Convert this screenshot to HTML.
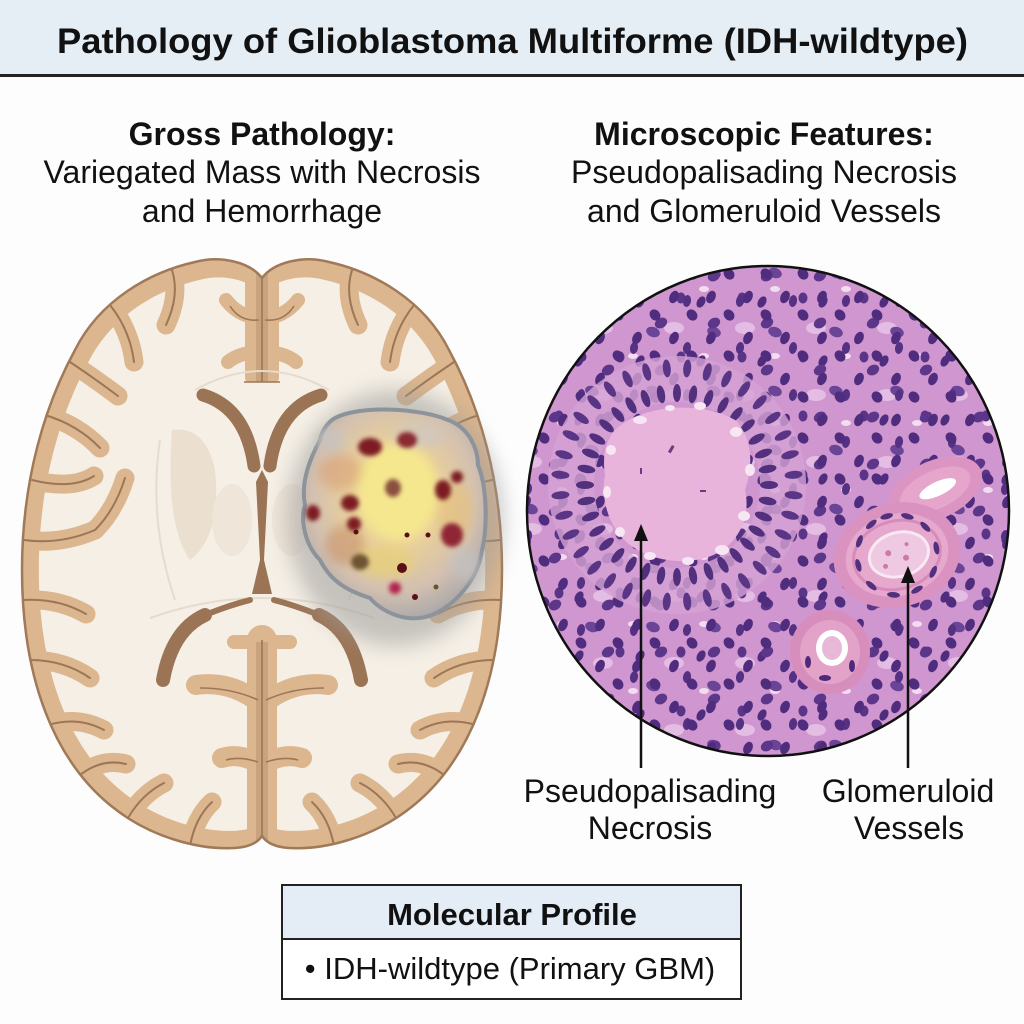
<!DOCTYPE html>
<html><head><meta charset="utf-8">
<style>html,body{margin:0;padding:0;background:#fff}svg{display:block}</style>
</head><body>
<svg width="1024" height="1024" viewBox="0 0 1024 1024" xmlns="http://www.w3.org/2000/svg" xmlns:xlink="http://www.w3.org/1999/xlink" font-family="'Liberation Sans', Arial, Helvetica, sans-serif">
<defs>
  <path id="brainOut" d="M262,278 C250,262 220,255 195,262 C150,272 100,300 75,350 C45,405 22,480 22,570 C22,680 55,760 110,805 C150,838 200,850 235,848 C250,847 258,842 262,836 C266,842 274,847 289,848 C324,850 374,838 414,805 C469,760 502,680 502,570 C502,480 479,405 449,350 C424,300 374,272 329,262 C304,255 274,262 262,278 Z"/>
  <clipPath id="brainClip"><use href="#brainOut"/></clipPath>
  <clipPath id="circ"><ellipse cx="768" cy="511" rx="241" ry="245"/></clipPath>
  <g id="sulci" fill="none" stroke-linecap="round" stroke-linejoin="round">
    <path d="M172,270 Q180,295 166,325"/>
    <path d="M110,305 Q130,330 134,362"/>
    <path d="M70,362 Q94,378 118,396"/>
    <path d="M45,415 Q78,425 100,448"/>
    <path d="M32,480 Q72,490 94,476"/>
    <path d="M24,540 Q60,545 95,530 Q115,510 125,478"/>
    <path d="M23,600 Q58,598 86,614"/>
    <path d="M30,660 Q64,660 90,678"/>
    <path d="M48,725 Q78,716 104,730"/>
    <path d="M80,775 Q102,758 126,764"/>
    <path d="M128,818 Q142,794 164,783"/>
    <path d="M190,846 Q195,818 212,802"/>
    <path d="M352,270 Q344,295 358,325"/>
    <path d="M414,305 Q394,330 390,362"/>
    <path d="M454,362 Q430,378 406,396"/>
    <path d="M479,415 Q446,425 424,448"/>
    <path d="M492,480 Q452,490 430,476"/>
    <path d="M500,540 Q464,545 429,530 Q409,510 399,478"/>
    <path d="M501,600 Q466,598 438,614"/>
    <path d="M494,660 Q460,660 434,678"/>
    <path d="M476,725 Q446,716 420,730"/>
    <path d="M444,775 Q422,758 398,764"/>
    <path d="M396,818 Q382,794 360,783"/>
    <path d="M334,846 Q329,818 312,802"/>
  </g>
  <filter id="blur10" x="-40%" y="-40%" width="180%" height="180%"><feGaussianBlur stdDeviation="10"/></filter>
  <filter id="blur5" x="-40%" y="-40%" width="180%" height="180%"><feGaussianBlur stdDeviation="5"/></filter>
  <filter id="blur2" x="-40%" y="-40%" width="180%" height="180%"><feGaussianBlur stdDeviation="2"/></filter>
  <radialGradient id="tg" cx="0.5" cy="0.42" r="0.6">
    <stop offset="0" stop-color="#f3e49c"/>
    <stop offset="0.4" stop-color="#ead09a"/>
    <stop offset="0.75" stop-color="#d3c0b0"/>
    <stop offset="1" stop-color="#aaa8a9"/>
  </radialGradient>
  <pattern id="nucA" width="37" height="41" patternUnits="userSpaceOnUse">
    <ellipse cx="8" cy="10" rx="4.5" ry="6.5" fill="#4f2c7d" transform="rotate(25 8 10)"/>
    <ellipse cx="26" cy="28" rx="5" ry="6" fill="#4f2c7d" transform="rotate(-40 26 28)"/>
  </pattern>
  <pattern id="nucB" width="53" height="47" patternUnits="userSpaceOnUse" patternTransform="translate(11 5)">
    <ellipse cx="14" cy="36" rx="5" ry="6.5" fill="#5c3689" transform="rotate(60 14 36)"/>
    <ellipse cx="40" cy="14" rx="4" ry="6" fill="#553184" transform="rotate(10 40 14)"/>
  </pattern>
  <pattern id="nucC" width="61" height="59" patternUnits="userSpaceOnUse" patternTransform="translate(23 17)">
    <ellipse cx="20" cy="20" rx="5" ry="7" fill="#6a4496" transform="rotate(-70 20 20)"/>
    <ellipse cx="48" cy="45" rx="4.5" ry="5.5" fill="#5a3487"/>
    <ellipse cx="7" cy="49" rx="4" ry="6" fill="#4f2c7d" transform="rotate(30 7 49)"/>
  </pattern>
  <pattern id="pale" width="71" height="67" patternUnits="userSpaceOnUse" patternTransform="translate(5 30)">
    <ellipse cx="30" cy="30" rx="10" ry="6" fill="#e3bde3"/>
    <ellipse cx="60" cy="58" rx="5" ry="3" fill="#f2dcef"/>
  </pattern>
  <ellipse id="pn1" cx="0" cy="-92" rx="4" ry="9" fill="#52307e"/>
  <ellipse id="pn2" cx="0" cy="-117" rx="4" ry="9" fill="#5a3585"/>
  <ellipse id="vn" cx="0" cy="-40" rx="6.5" ry="2.8" fill="#52307e"/>
</defs>

<rect width="1024" height="1024" fill="#fdfdfd"/>

<!-- Title bar -->
<rect x="0" y="0" width="1024" height="75" fill="#e5edf5"/>
<line x1="0" y1="75.5" x2="1024" y2="75.5" stroke="#222" stroke-width="3"/>
<text x="57" y="53" font-size="35" font-weight="bold" fill="#111" textLength="911" lengthAdjust="spacingAndGlyphs">Pathology of Glioblastoma Multiforme (IDH-wildtype)</text>

<!-- Headings -->
<g fill="#111" text-anchor="middle">
  <text x="262" y="145" font-size="32" font-weight="bold">Gross Pathology:</text>
  <text x="262" y="183" font-size="32">Variegated Mass with Necrosis</text>
  <text x="262" y="222" font-size="32">and Hemorrhage</text>
  <text x="764" y="145" font-size="32" font-weight="bold">Microscopic Features:</text>
  <text x="764" y="183" font-size="32">Pseudopalisading Necrosis</text>
  <text x="764" y="222" font-size="32">and Glomeruloid Vessels</text>
</g>

<!-- Brain -->
<use href="#brainOut" fill="#dcb68e"/>
<use href="#brainOut" fill="#f5efe5" transform="translate(262 560) scale(0.93 0.94) translate(-262 -560)"/>
<g clip-path="url(#brainClip)">
  <use href="#sulci" stroke="#dcb68e" stroke-width="19"/>
  <use href="#sulci" stroke="#9c7656" stroke-width="2"/>
  <!-- frontal midline -->
  <rect x="245" y="272" width="34" height="110" rx="4" fill="#dcb68e"/>
  <g stroke="#dcb68e" stroke-width="14" fill="none" stroke-linecap="round">
    <path d="M262,318 Q240,318 226,300"/><path d="M262,318 Q284,318 298,300"/>
    <path d="M262,352 Q240,352 228,362"/><path d="M262,352 Q284,352 296,362"/>
  </g>
  <rect x="256" y="272" width="12" height="110" fill="#c9a37d"/>
  <g stroke="#9c7656" stroke-width="1.6" fill="none">
    <path d="M262,272 L262,382"/>
    <path d="M259,320 Q240,322 230,306"/><path d="M265,320 Q284,322 294,306"/>
    <path d="M244,382 L280,382"/>
  </g>
  <!-- posterior midline -->
  <g stroke="#dcb68e" fill="none" stroke-linecap="round">
    <path d="M262,640 L262,850" stroke-width="30"/>
    <path d="M234,642 L290,642" stroke-width="14"/>
    <path d="M262,705 Q232,680 196,685" stroke-width="20"/>
    <path d="M262,705 Q292,680 328,685" stroke-width="20"/>
    <path d="M262,765 Q240,752 222,758" stroke-width="20"/>
    <path d="M262,765 Q284,752 302,758" stroke-width="20"/>
  </g>
  <rect x="256" y="642" width="12" height="210" fill="#c9a37d"/>
  <g stroke="#9c7656" stroke-width="1.6" fill="none">
    <path d="M262,640 L262,850"/>
    <path d="M258,700 Q232,688 200,688"/><path d="M266,700 Q292,688 324,688"/>
    <path d="M258,762 Q240,756 226,760"/><path d="M266,762 Q284,756 298,760"/>
  </g>
</g>
<!-- deep structures -->
<g fill="none" stroke="#e5dccd" stroke-width="2">
  <path d="M195,390 Q262,352 329,390"/>
  <path d="M150,618 Q262,578 374,618"/>
  <path d="M160,440 Q148,520 175,600"/>
  <path d="M364,440 Q376,520 349,600"/>
</g>
<path d="M172,430 Q205,425 215,470 Q222,535 190,560 Q165,525 172,430 Z" fill="#ebdfcf"/>
<ellipse cx="232" cy="520" rx="20" ry="36" fill="#efe5d8"/>
<path d="M352,430 Q319,425 309,470 Q302,535 334,560 Q359,525 352,430 Z" fill="#ebdfcf"/>
<ellipse cx="292" cy="520" rx="20" ry="36" fill="#efe5d8"/>
<g stroke="#9b7455" fill="none" stroke-linecap="round">
  <path d="M203,395 Q246,408 254,466" stroke-width="13"/>
  <path d="M321,395 Q278,408 270,466" stroke-width="13"/>
  <path d="M205,615 Q172,630 163,680" stroke-width="14"/>
  <path d="M319,615 Q352,630 361,680" stroke-width="14"/>
  <path d="M205,615 Q230,605 250,600" stroke-width="6"/>
  <path d="M319,615 Q294,605 274,600" stroke-width="6"/>
</g>
<path d="M262,470 L268,482 L264,560 L272,594 L252,594 L260,560 L256,482 Z" fill="#9b7455"/>
<use href="#brainOut" fill="none" stroke="#a07a58" stroke-width="2.5"/>

<!-- Tumor -->
<ellipse cx="395" cy="518" rx="108" ry="128" fill="#9f9d9c" opacity="0.55" filter="url(#blur10)"/>
<path d="M335,418 C360,405 420,408 448,420 C470,428 478,450 478,465 C488,490 487,530 482,550 C478,580 455,605 432,615 C405,625 380,610 370,598 C345,590 330,580 320,560 C305,545 300,520 305,505 C300,480 312,455 320,440 C322,430 328,422 335,418 Z" fill="url(#tg)" stroke="#8c939a" stroke-width="4"/>
<g filter="url(#blur5)">
  <ellipse cx="398" cy="492" rx="40" ry="48" fill="#f5e78e"/>
  <ellipse cx="340" cy="472" rx="22" ry="18" fill="#d99a6c" opacity="0.5"/>
  <ellipse cx="455" cy="512" rx="18" ry="30" fill="#e6c07a" opacity="0.6"/>
  <ellipse cx="385" cy="562" rx="30" ry="16" fill="#e8d070" opacity="0.6"/>
  <ellipse cx="420" cy="435" rx="25" ry="12" fill="#d0c8bf" opacity="0.8"/>
  <ellipse cx="345" cy="545" rx="20" ry="20" fill="#c48a5e" opacity="0.5"/>
  <ellipse cx="330" cy="440" rx="14" ry="12" fill="#c7c3bf" opacity="0.8"/>
  <ellipse cx="465" cy="565" rx="14" ry="16" fill="#c3c0bf" opacity="0.8"/>
</g>
<g filter="url(#blur2)" fill="#7c1c24">
  <ellipse cx="370" cy="447" rx="12" ry="9"/>
  <ellipse cx="407" cy="440" rx="10" ry="8" fill="#8a2a30"/>
  <ellipse cx="350" cy="503" rx="9" ry="8"/>
  <ellipse cx="354" cy="524" rx="7" ry="7"/>
  <ellipse cx="443" cy="490" rx="8" ry="10"/>
  <ellipse cx="457" cy="477" rx="6" ry="6"/>
  <ellipse cx="452" cy="535" rx="11" ry="12" fill="#8e2535"/>
  <ellipse cx="313" cy="513" rx="7" ry="8"/>
  <ellipse cx="393" cy="488" rx="8" ry="9" fill="#8a5040"/>
  <ellipse cx="360" cy="562" rx="9" ry="8" fill="#6d5230"/>
  <ellipse cx="395" cy="588" rx="6" ry="6" fill="#b02050"/>
</g>
<g fill="#5a0f18">
  <circle cx="402" cy="568" r="5"/>
  <circle cx="415" cy="597" r="3"/>
  <circle cx="407" cy="535" r="2.5"/>
  <circle cx="428" cy="535" r="2.5"/>
  <circle cx="356" cy="532" r="2.5"/>
  <circle cx="436" cy="587" r="2.5" fill="#6d5230"/>
</g>

<!-- Micrograph -->
<g clip-path="url(#circ)">
  <rect x="520" y="260" width="500" height="505" fill="#cf96cf"/>
  <rect x="520" y="260" width="500" height="505" fill="url(#pale)"/>
  <rect x="520" y="260" width="500" height="505" fill="url(#nucC)"/>
  <rect x="520" y="260" width="500" height="505" fill="url(#nucB)"/>
  <rect x="520" y="260" width="500" height="505" fill="url(#nucA)"/>
  <!-- palisade ring -->
  <g transform="translate(677 485)">
    <circle cx="0" cy="0" r="106" fill="none" stroke="#d5a2d4" stroke-width="46" opacity="0.8"/>
    <use href="#pn1" transform="rotate(0)"/><use href="#pn1" transform="rotate(10)"/><use href="#pn1" transform="rotate(20)"/><use href="#pn1" transform="rotate(30)"/><use href="#pn1" transform="rotate(40)"/><use href="#pn1" transform="rotate(50)"/><use href="#pn1" transform="rotate(60)"/><use href="#pn1" transform="rotate(70)"/><use href="#pn1" transform="rotate(80)"/><use href="#pn1" transform="rotate(90)"/><use href="#pn1" transform="rotate(100)"/><use href="#pn1" transform="rotate(110)"/><use href="#pn1" transform="rotate(120)"/><use href="#pn1" transform="rotate(130)"/><use href="#pn1" transform="rotate(140)"/><use href="#pn1" transform="rotate(150)"/><use href="#pn1" transform="rotate(160)"/><use href="#pn1" transform="rotate(170)"/><use href="#pn1" transform="rotate(180)"/><use href="#pn1" transform="rotate(190)"/><use href="#pn1" transform="rotate(200)"/><use href="#pn1" transform="rotate(210)"/><use href="#pn1" transform="rotate(220)"/><use href="#pn1" transform="rotate(230)"/><use href="#pn1" transform="rotate(240)"/><use href="#pn1" transform="rotate(250)"/><use href="#pn1" transform="rotate(260)"/><use href="#pn1" transform="rotate(270)"/><use href="#pn1" transform="rotate(280)"/><use href="#pn1" transform="rotate(290)"/><use href="#pn1" transform="rotate(300)"/><use href="#pn1" transform="rotate(310)"/><use href="#pn1" transform="rotate(320)"/><use href="#pn1" transform="rotate(330)"/><use href="#pn1" transform="rotate(340)"/><use href="#pn1" transform="rotate(350)"/>
    <use href="#pn2" transform="rotate(5)"/><use href="#pn2" transform="rotate(15)"/><use href="#pn2" transform="rotate(25)"/><use href="#pn2" transform="rotate(35)"/><use href="#pn2" transform="rotate(45)"/><use href="#pn2" transform="rotate(55)"/><use href="#pn2" transform="rotate(65)"/><use href="#pn2" transform="rotate(75)"/><use href="#pn2" transform="rotate(85)"/><use href="#pn2" transform="rotate(95)"/><use href="#pn2" transform="rotate(105)"/><use href="#pn2" transform="rotate(115)"/><use href="#pn2" transform="rotate(125)"/><use href="#pn2" transform="rotate(135)"/><use href="#pn2" transform="rotate(145)"/><use href="#pn2" transform="rotate(155)"/><use href="#pn2" transform="rotate(165)"/><use href="#pn2" transform="rotate(175)"/><use href="#pn2" transform="rotate(185)"/><use href="#pn2" transform="rotate(195)"/><use href="#pn2" transform="rotate(205)"/><use href="#pn2" transform="rotate(215)"/><use href="#pn2" transform="rotate(225)"/><use href="#pn2" transform="rotate(235)"/><use href="#pn2" transform="rotate(245)"/><use href="#pn2" transform="rotate(255)"/><use href="#pn2" transform="rotate(265)"/><use href="#pn2" transform="rotate(275)"/><use href="#pn2" transform="rotate(285)"/><use href="#pn2" transform="rotate(295)"/><use href="#pn2" transform="rotate(305)"/><use href="#pn2" transform="rotate(315)"/><use href="#pn2" transform="rotate(325)"/><use href="#pn2" transform="rotate(335)"/><use href="#pn2" transform="rotate(345)"/><use href="#pn2" transform="rotate(355)"/>
  </g>
  <!-- necrosis -->
  <path d="M615,430 C640,405 700,400 735,420 C755,440 752,470 745,490 C752,520 735,550 705,558 C680,565 650,560 630,545 C610,530 600,500 605,475 C602,455 606,440 615,430 Z" fill="#e8b4dc"/>
  <g fill="#f6e7f3">
    <ellipse cx="640" cy="420" rx="7" ry="4"/><ellipse cx="700" cy="406" rx="6" ry="4"/><ellipse cx="736" cy="432" rx="6" ry="5"/>
    <ellipse cx="750" cy="470" rx="5" ry="6"/><ellipse cx="744" cy="516" rx="6" ry="5"/><ellipse cx="722" cy="550" rx="7" ry="5"/>
    <ellipse cx="688" cy="561" rx="6" ry="4"/><ellipse cx="650" cy="556" rx="6" ry="4"/><ellipse cx="620" cy="532" rx="5" ry="5"/>
    <ellipse cx="607" cy="492" rx="4" ry="6"/><ellipse cx="611" cy="450" rx="5" ry="5"/><ellipse cx="670" cy="408" rx="5" ry="3"/>
  </g>
  <g fill="#6a3b80">
    <rect x="672" y="445" width="3" height="8" transform="rotate(30 672 445)"/>
    <rect x="700" y="490" width="6" height="2"/>
    <rect x="640" y="468" width="2" height="6"/>
  </g>
  <!-- vessels -->
  <g transform="translate(935 490) rotate(-25)">
    <ellipse cx="0" cy="0" rx="50" ry="29" fill="#dc94c2"/>
    <ellipse cx="0" cy="0" rx="38" ry="19" fill="#e6a6cb"/>
    <ellipse cx="3" cy="0" rx="20" ry="7" fill="#ffffff"/>
  </g>
  <g transform="translate(897 555) rotate(-15)">
    <ellipse cx="0" cy="0" rx="64" ry="52" fill="#da92c0"/>
    <ellipse cx="0" cy="0" rx="52" ry="41" fill="#e6a8cc"/>
    <ellipse cx="0" cy="0" rx="44" ry="34" fill="none" stroke="#d68bbb" stroke-width="3"/>
    <ellipse cx="2" cy="0" rx="30" ry="22" fill="#efc9e2"/>
    <ellipse cx="2" cy="0" rx="30" ry="22" fill="none" stroke="#f8e8f3" stroke-width="3"/>
    <g fill="#cc7aad"><circle cx="-8" cy="-4" r="3"/><circle cx="8" cy="5" r="3"/><circle cx="12" cy="-8" r="2"/><circle cx="-14" cy="8" r="2.5"/></g>
    <use href="#vn" transform="rotate(0)"/><use href="#vn" transform="rotate(30)"/><use href="#vn" transform="rotate(60)"/><use href="#vn" transform="rotate(95)"/><use href="#vn" transform="rotate(130)"/><use href="#vn" transform="rotate(165)"/><use href="#vn" transform="rotate(200)"/><use href="#vn" transform="rotate(235)"/><use href="#vn" transform="rotate(270)"/><use href="#vn" transform="rotate(305)"/><use href="#vn" transform="rotate(335)"/>
  </g>
  <g transform="translate(830 652)">
    <ellipse cx="0" cy="0" rx="40" ry="42" fill="#d88ebc"/>
    <ellipse cx="0" cy="0" rx="30" ry="32" fill="#e3a2c8"/>
    <ellipse cx="2" cy="-4" rx="16" ry="18" fill="#ffffff"/>
    <ellipse cx="2" cy="-4" rx="10" ry="12" fill="#e8b8d8"/>
    <ellipse cx="-22" cy="10" rx="3" ry="6" fill="#4e2a7a"/><ellipse cx="22" cy="14" rx="3" ry="6" fill="#4e2a7a"/><ellipse cx="-5" cy="26" rx="6" ry="3" fill="#4e2a7a"/>
  </g>
</g>
<ellipse cx="768" cy="511" rx="241" ry="245" fill="none" stroke="#111" stroke-width="2.5"/>

<!-- Arrows -->
<g stroke="#111" stroke-width="2.5">
  <line x1="641" y1="768" x2="641" y2="536"/>
  <line x1="908" y1="768" x2="908" y2="578"/>
</g>
<polygon points="641,524 634,541 648,541" fill="#111"/>
<polygon points="908,566 901,583 915,583" fill="#111"/>

<!-- Labels -->
<g fill="#111" text-anchor="middle" font-size="32">
  <text x="650" y="802">Pseudopalisading</text>
  <text x="650" y="839">Necrosis</text>
  <text x="908" y="802">Glomeruloid</text>
  <text x="909" y="839">Vessels</text>
</g>

<!-- Molecular profile box -->
<rect x="282" y="885" width="459" height="114" fill="#ffffff"/>
<rect x="282" y="885" width="459" height="54" fill="#e4ecf5"/>
<line x1="282" y1="939" x2="741" y2="939" stroke="#222" stroke-width="2"/>
<rect x="282" y="885" width="459" height="114" fill="none" stroke="#222" stroke-width="2"/>
<text x="512" y="925" font-size="31" font-weight="bold" fill="#111" text-anchor="middle">Molecular Profile</text>
<text x="510" y="979" font-size="31" fill="#111" text-anchor="middle">• IDH-wildtype (Primary GBM)</text>
</svg>
</body></html>
